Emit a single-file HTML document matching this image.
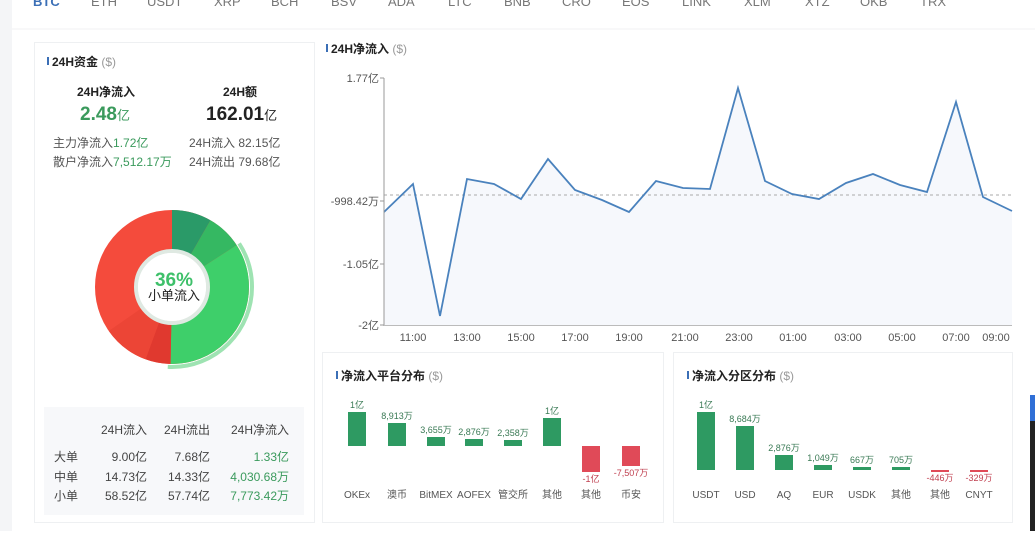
<!DOCTYPE html>
<html><head><meta charset="utf-8"><style>
body{margin:0;background:#fff;width:1035px;height:531px;overflow:hidden;font-family:"Liberation Sans","Noto Sans CJK SC",sans-serif}
svg text{font-family:"Liberation Sans","Noto Sans CJK SC",sans-serif}
</style></head><body>
<svg width="1035" height="531" viewBox="0 0 1035 531">
<rect x="0" y="0" width="1035" height="531" fill="#fff"/>
<rect x="0" y="0" width="12" height="531" fill="#f4f5f7"/>
<g font-size="13" fill="#777">
<text x="33" y="6" fill="#3b6fb6" font-weight="bold">BTC</text>
<text x="91" y="6">ETH</text><text x="147" y="6">USDT</text><text x="214" y="6">XRP</text>
<text x="271" y="6">BCH</text><text x="331" y="6">BSV</text><text x="388" y="6">ADA</text>
<text x="448" y="6">LTC</text><text x="504" y="6">BNB</text><text x="562" y="6">CRO</text>
<text x="622" y="6">EOS</text><text x="682" y="6">LINK</text><text x="744" y="6">XLM</text>
<text x="805" y="6">XTZ</text><text x="860" y="6">OKB</text><text x="920" y="6">TRX</text>
</g>
<line x1="12" y1="29" x2="1035" y2="29" stroke="#f0f1f3"/>
<!-- left panel -->
<rect x="34.5" y="42.5" width="280" height="480" fill="#fff" stroke="#eef0f2"/>
<rect x="47" y="57" width="2" height="8" fill="#3b6fb6"/>
<text x="52" y="66" font-size="12" font-weight="bold" fill="#222">24H资金 <tspan font-weight="normal" fill="#999">($)</tspan></text>
<text x="106" y="96" font-size="12" font-weight="bold" fill="#222" text-anchor="middle">24H净流入</text>
<text x="240" y="96" font-size="12" font-weight="bold" fill="#222" text-anchor="middle">24H额</text>
<text x="80" y="120" font-size="19" font-weight="bold" fill="#3a9a5c">2.48<tspan font-size="13" font-weight="normal">亿</tspan></text>
<text x="206" y="120" font-size="19" font-weight="bold" fill="#222">162.01<tspan font-size="13" font-weight="normal">亿</tspan></text>
<g font-size="12" fill="#555">
<text x="53" y="147">主力净流入<tspan fill="#3a9a5c">1.72亿</tspan></text>
<text x="53" y="166">散户净流入<tspan fill="#3a9a5c">7,512.17万</tspan></text>
<text x="189" y="147">24H流入  82.15亿</text>
<text x="189" y="166">24H流出  79.68亿</text>
</g>
<g transform="translate(172,287) rotate(-90)" fill="none">
<circle r="80" stroke="#9ee3b2" stroke-width="4" stroke-dasharray="175.9 600" stroke-dashoffset="-79.6"/>
<circle r="57" stroke="#f44b3c" stroke-width="40"/>
<circle r="57" stroke="#2a9a68" stroke-width="40" stroke-dasharray="29.8 400"/>
<circle r="57" stroke="#35b862" stroke-width="40" stroke-dasharray="26.9 400" stroke-dashoffset="-29.8"/>
<circle r="57" stroke="#3ecf6a" stroke-width="40" stroke-dasharray="123.3 400" stroke-dashoffset="-56.7"/>
<circle r="57" stroke="#e0392f" stroke-width="40" stroke-dasharray="18.9 400" stroke-dashoffset="-180"/>
<circle r="57" stroke="#ec4536" stroke-width="40" stroke-dasharray="34.8 400" stroke-dashoffset="-198.9"/>
<circle r="36" stroke="#dfe9e2" stroke-width="4"/>
</g>
<circle cx="172" cy="287" r="34" fill="#fff"/>
<text x="174" y="286" font-size="19" font-weight="bold" fill="#3ec06a" text-anchor="middle">36%</text>
<text x="174" y="300" font-size="13" fill="#222" text-anchor="middle">小单流入</text>
<rect x="44" y="407" width="260" height="108" fill="#f7f8fa"/>
<g font-size="12" fill="#444" text-anchor="end">
<text x="147" y="434">24H流入</text><text x="210" y="434">24H流出</text><text x="289" y="434">24H净流入</text>
<text x="147" y="461">9.00亿</text><text x="210" y="461">7.68亿</text><text x="289" y="461" fill="#3a9a5c">1.33亿</text>
<text x="147" y="481">14.73亿</text><text x="210" y="481">14.33亿</text><text x="289" y="481" fill="#3a9a5c">4,030.68万</text>
<text x="147" y="500">58.52亿</text><text x="210" y="500">57.74亿</text><text x="289" y="500" fill="#3a9a5c">7,773.42万</text>
</g>
<g font-size="12" fill="#444"><text x="54" y="461">大单</text><text x="54" y="481">中单</text><text x="54" y="500">小单</text></g>
<!-- line chart -->
<rect x="326" y="44" width="2" height="8" fill="#3b6fb6"/>
<text x="331" y="53" font-size="12" font-weight="bold" fill="#222">24H净流入 <tspan font-weight="normal" fill="#999">($)</tspan></text>
<path d="M384,212 L413,184 L440,316 L467,179 L494,184 L521,199 L548,159 L575,190 L602,200 L629,212 L656,181 L683,188 L710,189 L738,88 L765,181 L792,194 L819,199 L846,183 L873,174 L900,185 L927,192 L956,102 L983,197 L1012,211 L1012,325 L384,325Z" fill="#f6f8fc"/>
<line x1="384" y1="195" x2="1012" y2="195" stroke="#aaa" stroke-dasharray="3,3"/>
<polyline points="384,212 413,184 440,316 467,179 494,184 521,199 548,159 575,190 602,200 629,212 656,181 683,188 710,189 738,88 765,181 792,194 819,199 846,183 873,174 900,185 927,192 956,102 983,197 1012,211" fill="none" stroke="#4a82bd" stroke-width="1.8"/>
<line x1="384" y1="78" x2="384" y2="326" stroke="#999"/>
<line x1="384" y1="325.5" x2="1012" y2="325.5" stroke="#bbb"/>
<g stroke="#999"><line x1="380" y1="78" x2="384" y2="78"/><line x1="380" y1="201" x2="384" y2="201"/><line x1="380" y1="264" x2="384" y2="264"/><line x1="380" y1="325" x2="384" y2="325"/></g>
<g font-size="11" fill="#555" text-anchor="end">
<text x="379" y="82">1.77亿</text><text x="379" y="205">-998.42万</text><text x="379" y="268">-1.05亿</text><text x="379" y="329">-2亿</text>
</g>
<g font-size="11" fill="#555" text-anchor="middle">
<text x="413" y="341">11:00</text><text x="467" y="341">13:00</text><text x="521" y="341">15:00</text><text x="575" y="341">17:00</text><text x="629" y="341">19:00</text><text x="685" y="341">21:00</text><text x="739" y="341">23:00</text><text x="793" y="341">01:00</text><text x="848" y="341">03:00</text><text x="902" y="341">05:00</text><text x="956" y="341">07:00</text><text x="996" y="341">09:00</text>
</g>
<!-- bar panels -->
<rect x="322.5" y="352.5" width="341" height="170" fill="#fff" stroke="#eef0f2"/>
<rect x="673.5" y="352.5" width="339" height="170" fill="#fff" stroke="#eef0f2"/>
<rect x="336" y="371" width="2" height="8" fill="#3b6fb6"/>
<text x="341" y="380" font-size="12" font-weight="bold" fill="#222">净流入平台分布 <tspan font-weight="normal" fill="#999">($)</tspan></text>
<rect x="687" y="371" width="2" height="8" fill="#3b6fb6"/>
<text x="692" y="380" font-size="12" font-weight="bold" fill="#222">净流入分区分布 <tspan font-weight="normal" fill="#999">($)</tspan></text>
<g fill="#2e9a62">
<rect x="348" y="412" width="18" height="34"/><rect x="388" y="423" width="18" height="23"/><rect x="427" y="437" width="18" height="9"/><rect x="465" y="439" width="18" height="7"/><rect x="504" y="440" width="18" height="6"/><rect x="543" y="418" width="18" height="28"/>
<rect x="697" y="412" width="18" height="58"/><rect x="736" y="426" width="18" height="44"/><rect x="775" y="455" width="18" height="15"/><rect x="814" y="465" width="18" height="5"/><rect x="853" y="467" width="18" height="3"/><rect x="892" y="467" width="18" height="3"/>
</g>
<g fill="#e04a58">
<rect x="582" y="446" width="18" height="26"/><rect x="622" y="446" width="18" height="20"/>
<rect x="931" y="470" width="18" height="2"/><rect x="970" y="470" width="18" height="2"/>
</g>
<g font-size="9" fill="#3a7a55" text-anchor="middle">
<text x="357" y="408">1亿</text><text x="397" y="419">8,913万</text><text x="436" y="433">3,655万</text><text x="474" y="435">2,876万</text><text x="513" y="436">2,358万</text><text x="552" y="414">1亿</text>
<text x="706" y="408">1亿</text><text x="745" y="422">8,684万</text><text x="784" y="451">2,876万</text><text x="823" y="461">1,049万</text><text x="862" y="463">667万</text><text x="901" y="463">705万</text>
</g>
<g font-size="9" fill="#c04050" text-anchor="middle">
<text x="591" y="482">-1亿</text><text x="631" y="476">-7,507万</text><text x="940" y="481">-446万</text><text x="979" y="481">-329万</text>
</g>
<g font-size="10" fill="#555" text-anchor="middle">
<text x="357" y="498">OKEx</text><text x="397" y="498">澳币</text><text x="436" y="498">BitMEX</text><text x="474" y="498">AOFEX</text><text x="513" y="498">管交所</text><text x="552" y="498">其他</text><text x="591" y="498">其他</text><text x="631" y="498">币安</text>
<text x="706" y="498">USDT</text><text x="745" y="498">USD</text><text x="784" y="498">AQ</text><text x="823" y="498">EUR</text><text x="862" y="498">USDK</text><text x="901" y="498">其他</text><text x="940" y="498">其他</text><text x="979" y="498">CNYT</text>
</g>
<rect x="1030" y="395" width="5" height="26" fill="#2f6fd6"/>
<rect x="1030" y="421" width="5" height="110" fill="#222"/>
</svg>
</body></html>
